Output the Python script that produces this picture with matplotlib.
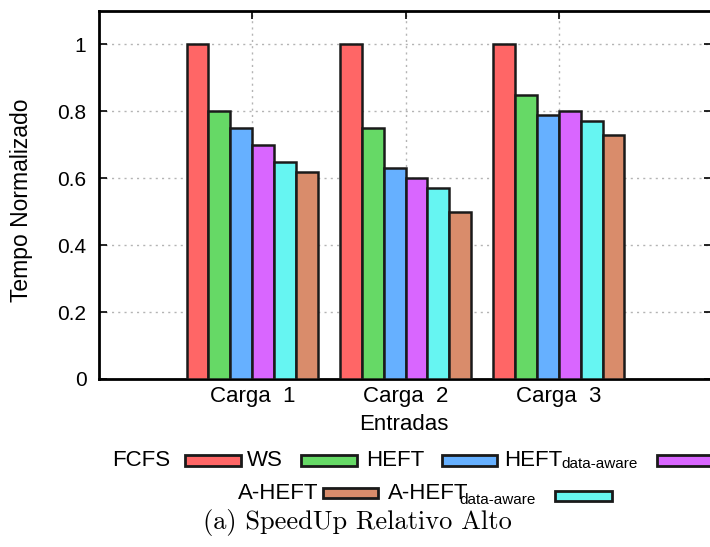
import numpy as np
import matplotlib
matplotlib.use('Agg')
import matplotlib.pyplot as plt
from matplotlib.patches import Rectangle

plt.rcParams['font.family'] = ['Liberation Sans', 'DejaVu Sans']

groups = ['Carga  1', 'Carga  2', 'Carga  3']
series = ['FCFS', 'WS', 'HEFT', 'HEFT data-aware', 'A-HEFT data-aware', 'A-HEFT']
fcfs = [1.0, 1.0, 1.0]
ws = [0.80, 0.75, 0.85]
heft = [0.75, 0.63, 0.79]
heft_da = [0.70, 0.60, 0.80]
aheft_da = [0.65, 0.57, 0.77]
aheft = [0.62, 0.50, 0.73]
values = [fcfs, ws, heft, heft_da, aheft_da, aheft]
colors = ['#ff6666', '#66d966', '#66b0ff', '#d966ff', '#66f5f2', '#d98c6b']
yticks = [0, 0.2, 0.4, 0.6, 0.8, 1.0]
ytick_labels = ['0', '0.2', '0.4', '0.6', '0.8', '1']

W, H = 710, 547
fig = plt.figure(figsize=(W / 100, H / 100), dpi=100)

def fx(px):
    return px / W

def fy(py):
    return 1 - py / H

ax = fig.add_axes([fx(99), fy(379), fx(712) - fx(99), fy(11) - fy(379)])

x = np.arange(len(groups))
width = 0.143
for i, (vals, c) in enumerate(zip(values, colors)):
    ax.bar(x + (i - 2.5) * width, vals, width, color=c, edgecolor='#1a1a1a',
           linewidth=1.8, zorder=3)

ax.set_xlim(-1.0, 3.0)
ax.set_ylim(0, 1.1)
ax.set_yticks(yticks)
ax.set_yticklabels(ytick_labels)
ax.set_xticks(x)
ax.set_xticklabels(groups)
ax.tick_params(axis='y', direction='in', length=6, width=1.2, right=True,
               labelsize=15, pad=9)
ax.tick_params(axis='x', direction='in', length=6, width=1.2, top=True,
               bottom=False, labelsize=16, pad=5)
for s in ax.spines.values():
    s.set_linewidth(2)
ax.grid(True, linestyle=(0, (1.5, 3)), color='#b4b4b4', linewidth=1, zorder=0)

fig.text(fx(22), fy(200), 'Tempo Normalizado', rotation=90, ha='center',
         va='center', fontsize=16.5)
fig.text(fx(404), fy(425), 'Entradas', ha='center', va='center', fontsize=16)

# legend, gnuplot style: label then swatch
def swatch(x0, x1, y0, y1, c):
    fig.patches.append(Rectangle((fx(x0), fy(y1)), fx(x1) - fx(x0), fy(y0) - fy(y1),
                                 facecolor=c, edgecolor='#1a1a1a', linewidth=2,
                                 transform=fig.transFigure, figure=fig))

fs = 16
sub = 11
fig.text(fx(112), fy(466), 'FCFS', fontsize=fs, va='baseline')
swatch(185, 241, 455, 466, colors[0])
fig.text(fx(247), fy(466), 'WS', fontsize=fs, va='baseline')
swatch(301, 357, 455, 466, colors[1])
fig.text(fx(366), fy(466), 'HEFT', fontsize=fs, va='baseline')
swatch(442, 497, 455, 466, colors[2])
fig.text(fx(504), fy(466), 'HEFT', fontsize=fs, va='baseline')
fig.text(fx(561), fy(468), 'data-aware', fontsize=sub, va='baseline')
swatch(657, 720, 455, 466, colors[3])

fig.text(fx(238), fy(499), 'A-HEFT', fontsize=fs, va='baseline')
swatch(323, 378, 488, 498, colors[5])
fig.text(fx(388), fy(499), 'A-HEFT', fontsize=fs, va='baseline')
fig.text(fx(459), fy(504), 'data-aware', fontsize=sub, va='baseline')
swatch(555, 612, 491, 501, colors[4])

fig.text(fx(357), fy(522), '(a) SpeedUp Relativo Alto', ha='center', va='center',
         fontsize=19, family='cmr10')

fig.savefig('out.png', dpi=100)
